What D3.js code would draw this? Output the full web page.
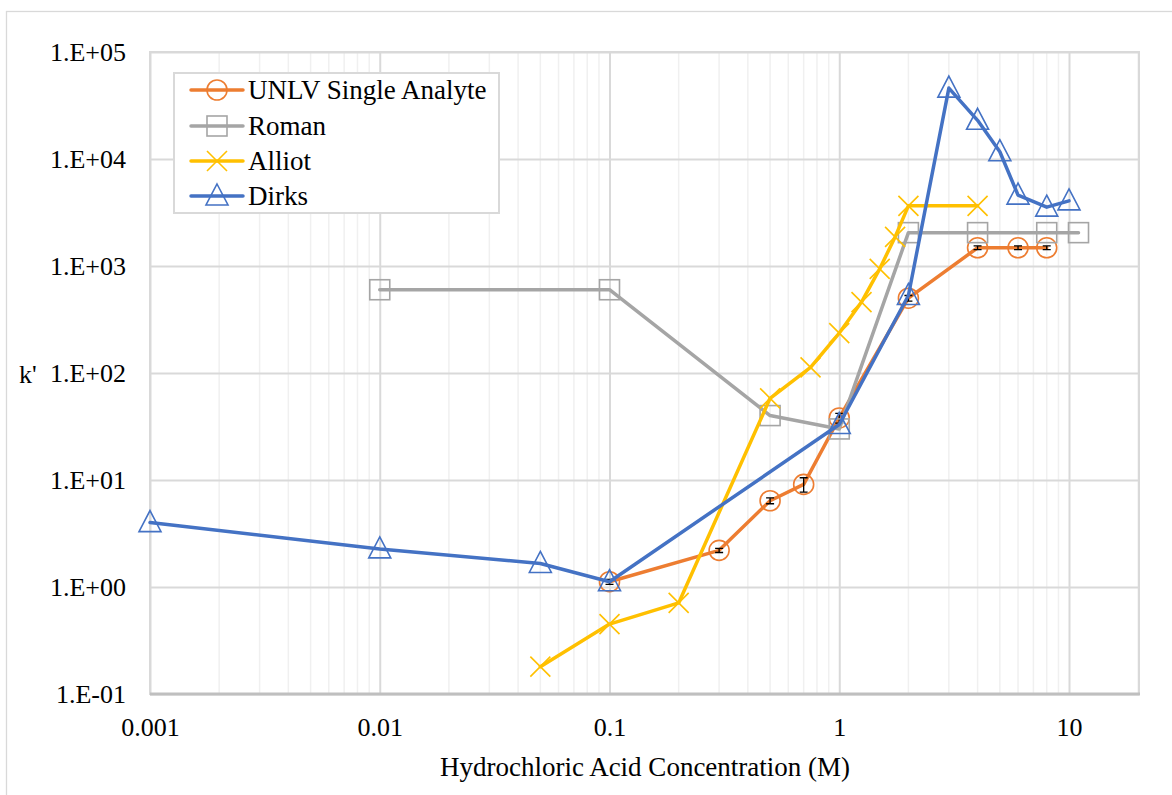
<!DOCTYPE html>
<html><head><meta charset="utf-8">
<script src="https://cdn.jsdelivr.net/npm/d3@7"></script>
<style>body{margin:0;background:#fff}svg{display:block}</style>
</head><body>
<svg id="chart" width="1172" height="795"></svg>
<script>
// ---- data ----
const unlvX = [0.1, 0.3, 0.5, 0.7, 1, 2, 4, 6, 8];
const unlvY = [1.12, 2.2, 6.4, 9.1, 38, 500, 1480, 1480, 1480];
const unlvErr = [0.06, 0.1, 0.4, 1.4, 4, 30, 60, 60, 60];
const romanX = [0.01, 0.1, 0.5, 1, 2, 4, 8, 11];
const romanY = [600, 600, 40, 30, 2050, 2050, 2050, 2050];
const alliotX = [0.05, 0.1, 0.2, 0.5, 0.75, 1, 1.25, 1.5, 1.75, 2, 4];
const alliotY = [0.18, 0.45, 0.71, 58, 113, 236, 460, 940, 1870, 3650, 3650];
const dirksX = [0.001, 0.01, 0.05, 0.1, 1, 2, 3, 4, 5, 6, 8, 10];
const dirksY = [4.0, 2.27, 1.66, 1.12, 33, 530, 46000, 23000, 11700, 4600, 3550, 4060];
const xTicks = [0.001, 0.01, 0.1, 1, 10];
const xTickLabels = ["0.001", "0.01", "0.1", "1", "10"];
const yTicks = [0.1, 1, 10, 100, 1000, 10000, 100000];
const yTickLabels = ["1.E-01", "1.E+00", "1.E+01", "1.E+02", "1.E+03", "1.E+04", "1.E+05"];
const seriesNames = ["UNLV Single Analyte", "Roman", "Alliot", "Dirks"];
const seriesColors = ["#ED7D31", "#A5A5A5", "#FFC000", "#4472C4"];
const xTitle = "Hydrochloric Acid Concentration (M)";
const yTitle = "k'";

// ---- layout ----
const svg = d3.select("#chart");
const L = 150, R = 1139, T = 52, B = 694;
const FONT = "'Liberation Serif','Times New Roman',serif";
const x = d3.scaleLog().domain([0.001, Math.pow(10, -3 + (R - L) / 229.75)]).range([L, R]);
const y = d3.scaleLog().domain([0.1, 100000]).range([B, T]);

// outer border
svg.append("rect").attr("x", 6.5).attr("y", 11.5).attr("width", 1180).attr("height", 800)
  .attr("fill", "#fff").attr("stroke", "#d9d9d9").attr("stroke-width", 1.3);

// minor x gridlines
const minor = [];
for (let e = -3; e <= 1; e++) for (let m = 2; m <= 9; m++) { const v = m * Math.pow(10, e); if (v < x.domain()[1]) minor.push(v); }
svg.append("g").selectAll("line").data(minor).join("line")
  .attr("x1", d => x(d)).attr("x2", d => x(d)).attr("y1", T).attr("y2", B)
  .attr("stroke", "#f0f0f0").attr("stroke-width", 1.5);

// major gridlines
const gx = svg.append("g").attr("transform", `translate(0,${B})`)
  .call(d3.axisBottom(x).tickValues(xTicks).tickSize(-(B - T)).tickFormat((d, i) => xTickLabels[i]));
gx.select(".domain").remove();
gx.selectAll(".tick line").attr("stroke", "#d9d9d9").attr("stroke-width", 2);
gx.selectAll(".tick text").attr("font-family", FONT).attr("font-size", 26).attr("fill", "#000").attr("dy", 0).attr("y", 42);

const gy = svg.append("g").attr("transform", `translate(${L},0)`)
  .call(d3.axisLeft(y).tickValues(yTicks).tickSize(-(R - L)).tickFormat((d, i) => yTickLabels[i]));
gy.select(".domain").remove();
gy.selectAll(".tick line").attr("stroke", "#d9d9d9").attr("stroke-width", 2);
gy.selectAll(".tick text").attr("font-family", FONT).attr("font-size", 26).attr("fill", "#000").attr("x", -24).attr("dy", "0.33em");

// plot border
svg.append("rect").attr("x", L).attr("y", T).attr("width", R - L).attr("height", B - T)
  .attr("fill", "none").attr("stroke", "#d9d9d9").attr("stroke-width", 2);
svg.append("line").attr("x1", L).attr("x2", R + 1).attr("y1", B).attr("y2", B)
  .attr("stroke", "#bfbfbf").attr("stroke-width", 3);

// titles
svg.append("text").attr("x", 645).attr("y", 776).attr("text-anchor", "middle")
  .attr("font-family", FONT).attr("font-size", 27).text(xTitle);
svg.append("text").attr("x", 19).attr("y", 383)
  .attr("font-family", FONT).attr("font-size", 26).text(yTitle);

// ---- series ----
const line = d3.line().x(d => x(d[0])).y(d => y(d[1])).curve(d3.curveLinear);
const series = [
  { pts: d3.zip(unlvX, unlvY), sym: "circle" },
  { pts: d3.zip(romanX, romanY), sym: "square" },
  { pts: d3.zip(alliotX, alliotY), sym: "x" },
  { pts: d3.zip(dirksX, dirksY), sym: "tri" }
];

function marker(g, sym, cx, cy, color) {
  if (sym === "circle") g.append("circle").attr("cx", cx).attr("cy", cy).attr("r", 10)
    .attr("fill", "none").attr("stroke", color).attr("stroke-width", 1.6);
  else if (sym === "square") g.append("rect").attr("x", cx - 10).attr("y", cy - 10).attr("width", 20).attr("height", 20)
    .attr("fill", "none").attr("stroke", color).attr("stroke-width", 1.6);
  else if (sym === "x") g.append("path").attr("d", `M${cx - 10},${cy - 10}L${cx + 10},${cy + 10}M${cx - 10},${cy + 10}L${cx + 10},${cy - 10}`)
    .attr("stroke", color).attr("stroke-width", 1.6).attr("fill", "none");
  else g.append("path").attr("d", `M${cx},${cy - 12}L${cx + 11},${cy + 9}L${cx - 11},${cy + 9}Z`)
    .attr("fill", "none").attr("stroke", color).attr("stroke-width", 1.6);
}

series.forEach((s, i) => {
  const g = svg.append("g");
  g.append("path").datum(s.pts).attr("d", line).attr("fill", "none")
    .attr("stroke", seriesColors[i]).attr("stroke-width", 3.5).attr("stroke-linejoin", "round").attr("stroke-linecap", "round");
  if (i === 0) {
    const eg = g.append("g");
    unlvX.forEach((xv, j) => {
      const y1 = y(unlvY[j] + unlvErr[j]), y2 = y(unlvY[j] - unlvErr[j]), cx = x(xv);
      eg.append("path").attr("d", `M${cx},${y1}L${cx},${y2}M${cx - 4},${y1}L${cx + 4},${y1}M${cx - 4},${y2}L${cx + 4},${y2}`)
        .attr("stroke", "#000").attr("stroke-width", 1.3).attr("fill", "none");
    });
  }
  s.pts.forEach(p => marker(g, s.sym, x(p[0]), y(p[1]), seriesColors[i]));
});

// ---- legend ----
const lg = svg.append("g");
lg.append("rect").attr("x", 174).attr("y", 73).attr("width", 325).attr("height", 140)
  .attr("fill", "#fff").attr("stroke", "#d9d9d9").attr("stroke-width", 2);
const rowY = [90, 126, 161, 196];
seriesNames.forEach((n, i) => {
  const cy = rowY[i];
  lg.append("line").attr("x1", 191).attr("x2", 243).attr("y1", cy).attr("y2", cy)
    .attr("stroke", seriesColors[i]).attr("stroke-width", 3.5).attr("stroke-linecap", "round");
  const mg = lg.append("g");
  marker(mg, series[i].sym, 217, cy, seriesColors[i]);
  lg.append("text").attr("x", 248).attr("y", cy).attr("dy", "0.34em")
    .attr("font-family", FONT).attr("font-size", 27).text(n);
});
</script>
</body></html>
